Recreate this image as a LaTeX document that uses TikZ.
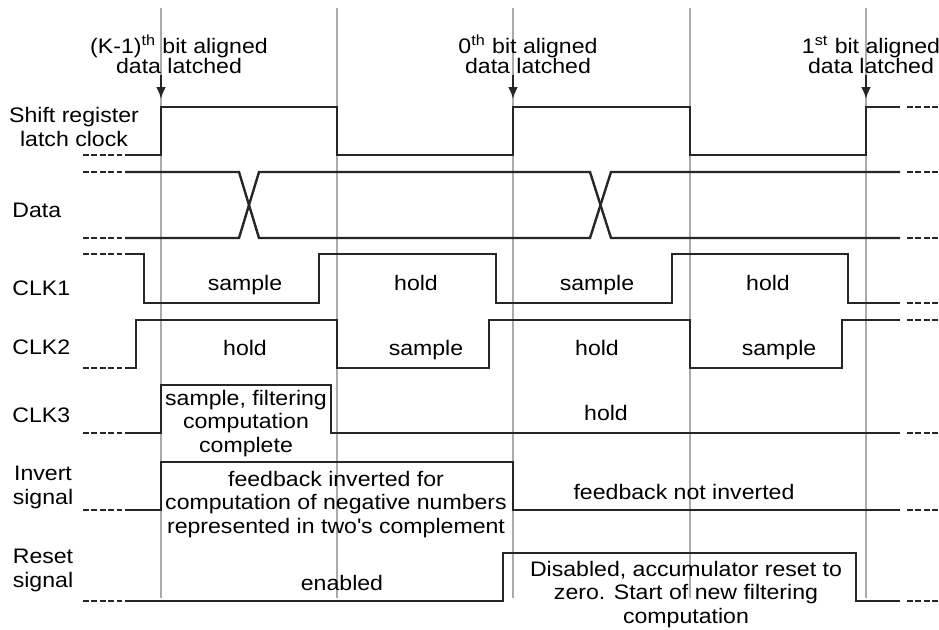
\documentclass[tikz,border=0pt]{standalone}
\usepackage{fontspec}
\setmainfont[FakeStretch=1.1]{Liberation Sans}
\usetikzlibrary{arrows.meta}

\tikzset{
    guide/.style={draw=black!33, line width=1pt},
    sig/.style={draw=black!85, line width=1.2pt},
    stub/.style={sig, dash pattern=on 3pt off 1.2pt},
    lbl/.style={font=\fontsize{10.5}{11.6}\selectfont, inner sep=0pt, align=center},
    toplbl/.style={font=\fontsize{10.5}{10}\selectfont, inner sep=0pt, align=center},
    latch/.style={draw=black!85, line width=1.2pt, -{Latex[length=6pt,width=5pt]}},
}

\begin{document}
\begin{tikzpicture}[x=0.5pt, y=-0.5pt]
    \useasboundingbox (0,0) rectangle (939,629);
    % time grid
    \foreach \x in {161,337,513,690,866}
        \draw[guide] (\x,8) -- (\x,598);

    % top labels and latch arrows
    \node[toplbl, anchor=base] (k1) at (179,73) {(K-1)\textsuperscript{th} bit aligned\\data latched};
    \node[toplbl, anchor=base] (b0) at (528,73) {0\textsuperscript{th} bit aligned\\data latched};
    \node[toplbl, anchor=base] (b1) at (871,73) {1\textsuperscript{st} bit aligned\\data latched};
    \coordinate (k1s) at (161,75);  \coordinate (k1e) at (161,99);
    \coordinate (b0s) at (513,75);  \coordinate (b0e) at (513,99);
    \coordinate (b1s) at (866,75);  \coordinate (b1e) at (866,99);
    \draw[latch] (k1s) -- (k1e);
    \draw[latch] (b0s) -- (b0e);
    \draw[latch] (b1s) -- (b1e);

    % signal names
    \node[lbl, anchor=base] (nshift) at (74,146) {Shift register\\latch clock};
    \node[lbl, anchor=base west] (ndata) at (12,217) {Data};
    \node[lbl, anchor=base west] (nclk1) at (12,295) {CLK1};
    \node[lbl, anchor=base west] (nclk2) at (12,354) {CLK2};
    \node[lbl, anchor=base west] (nclk3) at (12,422) {CLK3};
    \node[lbl, anchor=base] (ninv) at (43,504) {Invert\\signal};
    \node[lbl, anchor=base] (nrst) at (43,587) {Reset\\signal};

    % dashed stubs
    \foreach \y in {155,172,238,254,368,433,510,601}
        \draw[stub] (83,\y) -- (122,\y);
    \foreach \y in {107,172,238,303,320,433,510,601}
        \draw[stub] (907,\y) -- (939,\y);

    % shift register latch clock
    \draw[sig] (125,155) -- (161,155) -- (161,107) -- (337,107) -- (337,155) -- (513,155)
        -- (513,107) -- (690,107) -- (690,155) -- (866,155) -- (866,107) -- (900,107);
    % data
    \draw[sig] (125,172) -- (239,172) -- (259,238) -- (590,238) -- (611,172) -- (900,172);
    \draw[sig] (125,238) -- (239,238) -- (259,172) -- (590,172) -- (611,238) -- (900,238);
    % CLK1
    \draw[sig] (125,254) -- (144,254) -- (144,303) -- (319,303) -- (319,254) -- (496,254)
        -- (496,303) -- (672,303) -- (672,254) -- (848,254) -- (848,303) -- (900,303);
    % CLK2
    \draw[sig] (125,368) -- (136,368) -- (136,320) -- (337,320) -- (337,368) -- (489,368)
        -- (489,320) -- (690,320) -- (690,368) -- (842,368) -- (842,320) -- (900,320);
    % CLK3
    \draw[sig] (125,433) -- (161,433) -- (161,385) -- (331,385) -- (331,433) -- (900,433);
    % invert signal
    \draw[sig] (125,510) -- (161,510) -- (161,462) -- (513,462) -- (513,510) -- (900,510);
    % reset signal
    \draw[sig] (125,601) -- (503,601) -- (503,553) -- (856,553) -- (856,601) -- (900,601);

    % phase texts
    \node[lbl, anchor=base] (s1a) at (245,290) {sample};
    \node[lbl, anchor=base] (h1a) at (416,290) {hold};
    \node[lbl, anchor=base] (s1b) at (597,290) {sample};
    \node[lbl, anchor=base] (h1b) at (768,290) {hold};
    \node[lbl, anchor=base] (h2a) at (245,355) {hold};
    \node[lbl, anchor=base] (s2a) at (426,355) {sample};
    \node[lbl, anchor=base] (h2b) at (597,355) {hold};
    \node[lbl, anchor=base] (s2b) at (779,355) {sample};
    \node[lbl, anchor=base] (c3s) at (246,452) {sample, filtering\\computation\\complete};
    \node[lbl, anchor=base] (c3h) at (606,420) {hold};
    \node[lbl, anchor=base] (inv) at (336,533) {feedback inverted for\\computation of negative numbers\\represented in two\textquotesingle s complement};
    \node[lbl, anchor=base] (ninvd) at (684,499) {feedback not inverted};
    \node[lbl, anchor=base] (ena) at (342,590) {enabled};
    \node[lbl, anchor=base] (dis) at (686,623) {Disabled, accumulator reset to\\zero. Start of new filtering\\computation};
\end{tikzpicture}
\end{document}
